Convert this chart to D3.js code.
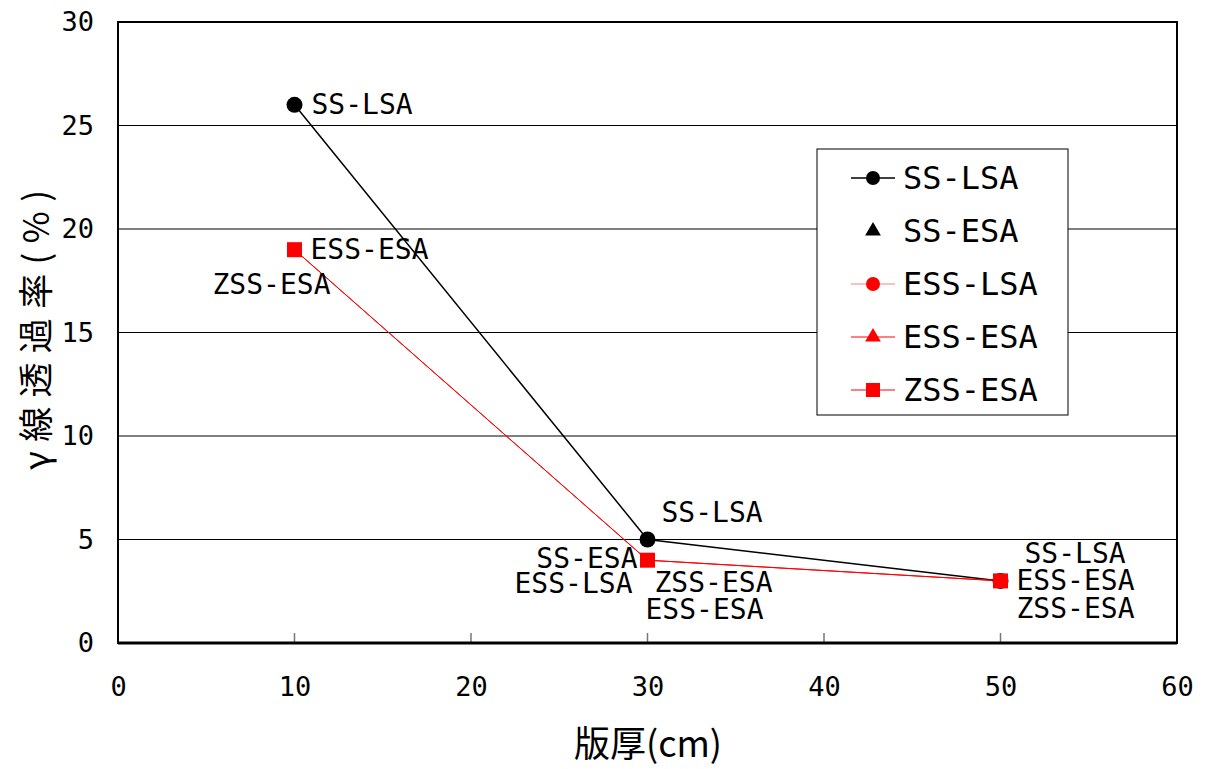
<!DOCTYPE html>
<html><head><meta charset="utf-8">
<script src="https://cdn.jsdelivr.net/npm/d3@7"></script>
<style>
body{margin:0;background:#fff;}
text{font-family:"DejaVu Sans Mono","Noto Sans CJK JP",monospace;}
.cjk{font-family:"Noto Sans CJK JP","Noto Sans",sans-serif;}
</style></head>
<body><svg id="c" width="1206" height="769"></svg>
<script>
// ---- data ----
const thickness = [10, 30, 50];
const ssLsa  = [26, 5, 3];
const ssEsa  = [null, 4, null];
const essLsa = [null, 4, null];
const essEsa = [19, 4, 3];
const zssEsa = [19, 4, 3];
const seriesNames = ["SS-LSA", "SS-ESA", "ESS-LSA", "ESS-ESA", "ZSS-ESA"];
const xTicks = [0, 10, 20, 30, 40, 50, 60];
const yTicks = [0, 5, 10, 15, 20, 25, 30];
const xTitle = "版厚(cm)";
const yTitle = "γ線透過率(%)";
// data labels: [series index, point index]
const pointLabels = [
  [0,0],[3,0],[4,0],
  [0,1],[1,1],[2,1],[4,1],[3,1],
  [0,2],[3,2],[4,2]
];

// ---- styles ----
const values = [ssLsa, ssEsa, essLsa, essEsa, zssEsa];
const styles = [
  {color:"#000", line:true, lineColor:"#000", lw:1.5, shape:"circle"},
  {color:"#000", line:false, lineColor:"#000", lw:1, shape:"triangle"},
  {color:"#ff0000", line:true, lineColor:"#ff8080", lw:1.2, shape:"circle"},
  {color:"#ff0000", line:true, lineColor:"#ff0000", lw:1, shape:"triangle"},
  {color:"#ff0000", line:true, lineColor:"#ff0000", lw:1, shape:"square"}
];
// label offsets (dx, dy, anchor) per label entry
const labelPos = [
  [17, 0, "start"], [16, 0, "start"], [36, 35, "end"],
  [14, -27, "start"], [-10, -2, "end"], [-15, 23, "end"], [7, 22, "start"], [-2, 49, "start"],
  [24, -27, "start"], [16, 0, "start"], [16, 28, "start"]
];

const svg = d3.select("#c");
const L = 118, R = 1177, T = 22, B = 643;
const x = d3.scaleLinear().domain([0, 60]).range([L, R]);
const y = d3.scaleLinear().domain([0, 30]).range([B, T]);

// gridlines
svg.append("g").selectAll("line").data(yTicks.filter(v => v > 0 && v < 30)).join("line")
  .attr("x1", L).attr("x2", R).attr("y1", d => y(d)).attr("y2", d => y(d))
  .attr("stroke", "#000").attr("stroke-width", 1);

// x ticks (inward)
svg.append("g").selectAll("line").data(xTicks.filter(v => v > 0 && v < 60)).join("line")
  .attr("x1", d => x(d)).attr("x2", d => x(d)).attr("y1", B).attr("y2", B - 10)
  .attr("stroke", "#777").attr("stroke-width", 1.5);

// border
svg.append("rect").attr("x", L).attr("y", T).attr("width", R - L).attr("height", B - T)
  .attr("fill", "none").attr("stroke", "#000").attr("stroke-width", 2);
svg.append("line").attr("x1", L).attr("x2", R).attr("y1", B).attr("y2", B)
  .attr("stroke", "#000").attr("stroke-width", 3);

// axes labels
const xAxis = d3.axisBottom(x).tickValues(xTicks).tickSize(0).tickPadding(34);
const gx = svg.append("g").attr("transform", `translate(0,${B})`).call(xAxis);
gx.select(".domain").remove();
gx.selectAll("text").attr("font-size", 27).attr("fill", "#000").attr("font-family", null);
const yAxis = d3.axisLeft(y).tickValues(yTicks).tickSize(0).tickPadding(24);
const gy = svg.append("g").attr("transform", `translate(${L},0)`).call(yAxis);
gy.select(".domain").remove();
gy.selectAll("text").attr("font-size", 27).attr("fill", "#000").attr("font-family", null);

svg.append("text").attr("class", "cjk").attr("x", 648).attr("y", 757).attr("text-anchor", "middle")
  .attr("font-size", 36).text(xTitle);
svg.append("text").attr("class", "cjk").attr("transform", "translate(33,330) rotate(-90)").attr("text-anchor", "middle")
  .attr("dominant-baseline", "central").attr("font-size", 35)
  .attr("textLength", 280).attr("lengthAdjust", "spacing").text(yTitle);

// marker helper
function marker(g, shape, color, size) {
  if (shape === "circle") g.append("circle").attr("r", size).attr("fill", color);
  else if (shape === "square") g.append("rect").attr("x", -size).attr("y", -size)
    .attr("width", 2 * size).attr("height", 2 * size).attr("fill", color);
  else g.append("path").attr("d", d3.symbol(d3.symbolTriangle, size * size * 2.2)()).attr("fill", color);
}

// lines & markers
values.forEach((vals, i) => {
  const st = styles[i];
  const pts = thickness.map((t, j) => [t, vals[j]]).filter(p => p[1] != null);
  if (st.line && pts.length > 1) {
    svg.append("path").datum(pts)
      .attr("d", d3.line().x(d => x(d[0])).y(d => y(d[1])))
      .attr("fill", "none").attr("stroke", st.lineColor).attr("stroke-width", st.lw);
  }
});
values.forEach((vals, i) => {
  const st = styles[i];
  thickness.forEach((t, j) => {
    if (vals[j] == null) return;
    const g = svg.append("g").attr("transform", `translate(${x(t)},${y(vals[j])})`);
    const sz = st.shape === "square" ? 7.5 : (st.shape === "triangle" ? 5.5 : (i === 0 ? 8 : 6.5));
    marker(g, st.shape, st.color, sz);
  });
});

// data labels
pointLabels.forEach(([si, pi], k) => {
  const [dx, dy, anchor] = labelPos[k];
  svg.append("text")
    .attr("x", x(thickness[pi]) + dx).attr("y", y(values[si][pi]) + dy)
    .attr("dominant-baseline", "central").attr("text-anchor", anchor)
    .attr("font-size", 28).attr("fill", "#000").text(seriesNames[si]);
});

// legend
const lg = svg.append("g");
lg.append("rect").attr("x", 817).attr("y", 149).attr("width", 251).attr("height", 266)
  .attr("fill", "#fff").attr("stroke", "#000").attr("stroke-width", 1);
seriesNames.forEach((n, i) => {
  const st = styles[i];
  const cy = 178 + i * 53;
  if (i !== 1) lg.append("line").attr("x1", 851).attr("x2", 895).attr("y1", cy).attr("y2", cy)
    .attr("stroke", st.lineColor).attr("stroke-width", st.lw);
  const g = lg.append("g").attr("transform", `translate(873,${cy})`);
  marker(g, st.shape, st.color, 7);
  lg.append("text").attr("x", 903).attr("y", cy).attr("dominant-baseline", "central")
    .attr("font-size", 32).text(n);
});
</script></body></html>
